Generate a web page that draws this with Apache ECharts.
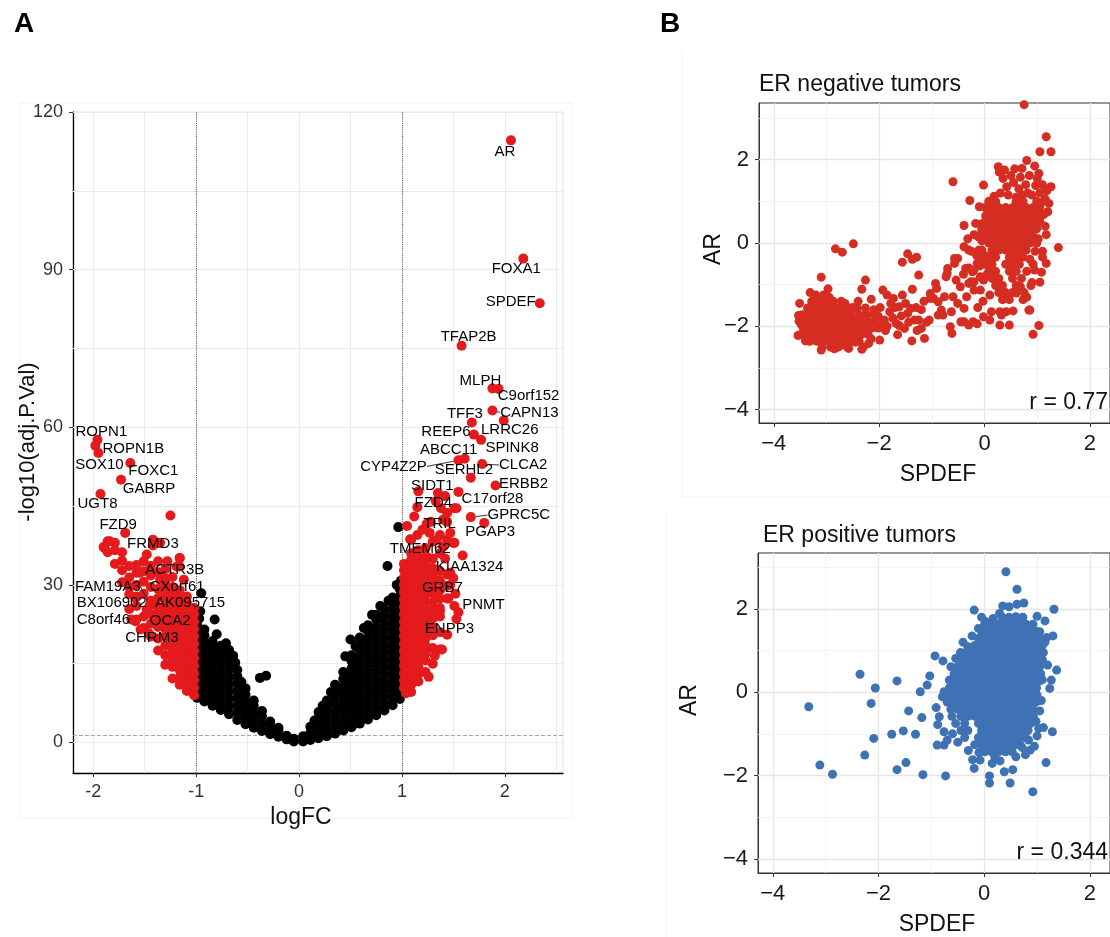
<!DOCTYPE html>
<html><head><meta charset="utf-8">
<script src="https://cdn.jsdelivr.net/npm/echarts@6/dist/echarts.min.js"></script>
<style>html,body{margin:0;padding:0;background:#fff;overflow:hidden}#c{width:1110px;height:937px}</style>
</head><body><div id="c"></div>
<script>
// ---------------- DATA ----------------
const volcanoTicksX = [-2, -1, 0, 1, 2];
const volcanoTicksY = [0, 30, 60, 90, 120];
const volcanoGridX = [-2, -1.5, -1, -0.5, 0, 0.5, 1, 1.5, 2, 2.5];
const volcanoGridY = [0, 15, 30, 45, 60, 75, 90, 105, 120];
const fcCutoffs = [-1, 1];
const pCutoff = 1.3;
const scatterTicks = [-4, -2, 0, 2];
const scatterGridX = [-4, -3, -2, -1, 0, 1, 2];
const scatterGridY = [-4, -3, -2, -1, 0, 1, 2, 3];

const geneNames = ['AR','FOXA1','SPDEF','TFAP2B','MLPH','C9orf152','CAPN13','LRRC26','TFF3','REEP6','SPINK8','ABCC11','CYP4Z2P','CLCA2','SERHL2','ERBB2','SIDT1','C17orf28','FZD4','GPRC5C','PGAP3','TRIL','TMEM62','KIAA1324','GRB7','PNMT','ENPP3','ROPN1','ROPN1B','SOX10','FOXC1','GABRP','UGT8','FZD9','FRMD3','ACTR3B','FAM19A3','CXorf61','BX106902','AK095715','C8orf46','OCA2','CHRM3'];
const geneLogFC = [2.06,2.18,2.34,1.58,1.88,1.94,1.88,1.99,1.68,1.70,1.77,1.61,1.55,1.78,1.67,1.91,1.16,1.55,1.15,1.67,1.80,1.24,1.09,1.59,1.50,1.55,1.53,-1.96,-1.98,-1.95,-1.64,-1.73,-1.93,-1.69,-1.42,-1.48,-1.45,-1.35,-1.48,-1.38,-1.59,-1.35,-1.46];
const geneLogP = [114.6,92.1,83.6,75.5,67.4,67.3,63.2,61.3,60.9,58.6,57.6,54.0,53.7,53.0,50.4,48.9,47.8,47.7,44.8,42.9,41.8,41.6,38.6,35.6,31.3,24.8,23.5,57.6,56.5,55.1,53.2,50.0,47.3,39.9,37.5,35.8,26.2,31.0,25.3,25.9,23.1,24.0,20.8];

// non-significant genes, by logFC column: [logFC, [-log10 p ...]]
const blackCols = [
 [-0.99,[8.5,9.9,11.3,12.7,14.1,15.5,16.9,18.3,19.7,21.1,22.3]],
 [-0.92,[7.8,9.2,10.6,12.0,13.4,14.8,16.2,17.6,19.0,20.4,21.5]],
 [-0.84,[7.0,8.4,9.8,11.2,12.6,14.0,15.4,16.8,18.2,19.3]],
 [-0.76,[6.2,7.6,9.0,10.4,11.8,13.2,14.6,16.0,17.4,18.4]],
 [-0.68,[5.4,6.8,8.2,9.6,11.0,12.4,13.8,15.2,16.6,17.6]],
 [-0.60,[4.3,5.7,7.1,8.5,9.9,11.3,12.6,13.8]],
 [-0.52,[3.5,4.9,6.3,7.7,9.1,10.3]],
 [-0.44,[2.8,4.2,5.6,7.0,8.0]],
 [-0.36,[2.2,3.6,5.0,6.0]],
 [-0.28,[1.6,3.0,4.0]],
 [-0.20,[1.1,2.3,2.8]],
 [-0.12,[0.6,1.3]],
 [-0.05,[0.2,0.7]],
 [0.04,[0.2,1.2]],
 [0.11,[0.5,1.8,3.0]],
 [0.19,[0.8,2.1,3.4,4.7,5.8]],
 [0.27,[1.2,2.6,4.0,5.4,6.8,8.0]],
 [0.35,[1.7,3.1,4.5,5.9,7.3,8.7,10.1,11.0]],
 [0.43,[2.3,3.7,5.1,6.5,7.9,9.3,10.7,12.1,13.4]],
 [0.51,[2.9,4.3,5.7,7.1,8.5,9.9,11.3,12.7,14.1,15.5,16.6]],
 [0.59,[3.6,5.0,6.4,7.8,9.2,10.6,12.0,13.4,14.8,16.2,17.6,19.0,20.0]],
 [0.67,[4.4,5.8,7.2,8.6,10.0,11.4,12.8,14.2,15.6,17.0,18.4,19.8,21.2,22.3]],
 [0.75,[5.2,6.6,8.0,9.4,10.8,12.2,13.6,15.0,16.4,17.8,19.2,20.6,22.0,23.4,24.3]],
 [0.83,[6.1,7.5,8.9,10.3,11.7,13.1,14.5,15.9,17.3,18.7,20.1,21.5,22.9,24.3,25.4]],
 [0.91,[7.1,8.5,9.9,11.3,12.7,14.1,15.5,16.9,18.3,19.7,21.1,22.5,23.9,25.3,26.7,27.6]],
 [0.98,[8.3,9.7,11.1,12.5,13.9,15.3,16.7,18.1,19.5,20.9,22.3,23.7,25.1,26.5,27.9,29.2]]
];
const blackExtra = [[-0.96,25.0],[-0.95,28.4],[-0.97,23.6],[-0.82,23.4],[-0.80,20.6],[-0.71,18.9],[-0.64,16.5],[-0.62,15.2],[-0.38,12.3],[-0.32,12.7],[-0.56,11.5],
 [0.965,41.0],[0.86,33.6],[0.99,30.8],[0.95,30.0],[0.50,19.6],[0.45,16.4],[0.55,18.3],[0.71,24.3],[0.79,26.0],[0.87,27.0],[0.63,21.8],[0.15,4.2],[0.23,7.0],[0.31,9.6]];

// significant genes (no label)
const redRightCols = [
 [1.02,[10.4,11.8,13.2,14.6,16.0,17.4,18.8,20.2,21.6,23.0,24.4,25.8,27.2,28.6,30.0,31.4,32.8,34.0]],
 [1.09,[9.6,11.0,12.4,13.8,15.2,16.6,18.0,19.4,20.8,22.2,23.6,25.0,26.4,27.8,29.2,30.6,32.0,33.4,34.8,36.0]],
 [1.16,[11.6,13.0,14.4,15.8,17.2,18.6,20.0,21.4,22.8,24.2,25.6,27.0,28.4,29.8,31.2,32.6,34.0,35.4,36.6]],
 [1.23,[13.4,15.6,17.0,18.4,19.8,21.2,22.6,24.0,25.4,26.8,28.2,29.6,31.0,32.4,33.8,35.2,37.0]],
 [1.30,[15.0,18.0,20.4,22.0,23.6,25.2,26.8,28.4,30.0,31.6,33.2,35.0,38.2]],
 [1.37,[17.7,21.0,24.0,25.6,27.4,29.0,30.8,32.6,36.0,39.5]],
 [1.44,[20.5,27.4,29.8,32.0,38.6,42.0]],
 [1.51,[26.0,38.0,44.6]]
];
const redRightExtra = [[1.08,38.7],[1.05,41.2],[1.12,43.0],[1.35,47.5],[1.42,46.9],[1.33,45.9],[1.38,44.6],[1.44,43.7],[1.53,44.6],[1.40,42.4],[1.47,39.9],[1.50,38.0],[1.27,39.9],[1.34,38.6],[1.40,37.3],[1.24,35.4],[1.47,32.3],[1.45,27.4],[1.37,25.0],[1.22,19.9],[1.39,17.7],[1.19,18.6],[1.20,40.5],[1.28,42.0],[1.15,39.5],[1.42,35.0],[1.47,30.0],[1.52,28.3],[1.32,16.5],[1.26,12.5],[1.04,9.4]];
const redLeftCols = [
 [-1.02,[9.0,10.4,11.8,13.2,14.6,16.0,17.4,18.8,20.2,21.6,23.0,24.4,25.6]],
 [-1.09,[9.8,11.2,12.6,14.0,15.4,16.8,18.2,19.6,21.0,22.4,23.8,25.2,26.6,27.8]],
 [-1.16,[11.0,12.4,13.8,15.2,16.6,18.0,19.4,20.8,22.2,23.6,25.0,26.4,27.8,29.0,33.5,35.1]],
 [-1.23,[12.2,14.4,15.8,17.2,18.6,20.0,21.4,22.8,24.2,25.6,27.0,28.4,29.6,31.5]],
 [-1.30,[14.8,16.6,18.4,20.2,21.6,23.0,24.4,25.8,27.2,28.6,30.0,31.2,33.0]],
 [-1.37,[17.5,19.8,22.0,23.4,25.0,27.5,29.2,32.4,34.5,38.0]],
 [-1.44,[20.2,22.6,24.4,27.0,29.6,31.8,33.6]],
 [-1.51,[21.8,24.0,28.3,30.6,32.6,34.5]],
 [-1.58,[23.4,26.0,27.8,30.0,32.3,33.8]],
 [-1.65,[25.4,28.2,29.6,31.4,33.6]],
 [-1.72,[30.5,32.8,34.6,36.2]],
 [-1.79,[34.0,36.6,38.0]],
 [-1.86,[36.2,38.3]],
 [-1.90,[37.2]]
];
const redLeftExtra = [[-1.25,43.2],[-1.19,33.5],[-1.12,31.0],[-1.28,34.5],[-1.42,38.6],[-1.35,38.0],[-1.16,35.1],[-1.89,37.0],[-1.84,38.3],[-1.55,32.3],[-1.59,27.5],[-1.63,23.4],[-1.54,21.5]];

// Panel B: ER negative tumors (SPDEF, AR), dense rows: [AR, [SPDEF ...]]
const erNegRows = [
 [-2.50,[-3.08,-2.92,-2.78,-2.60,-2.30]],
 [-2.36,[-3.32,-3.18,-3.05,-2.92,-2.79,-2.66,-2.52,-2.38]],
 [-2.20,[-3.50,-3.38,-3.25,-3.12,-2.99,-2.86,-2.73,-2.60,-2.47,-2.34,-2.21]],
 [-2.04,[-3.44,-3.31,-3.18,-3.05,-2.92,-2.79,-2.66,-2.53,-2.40,-2.27,-2.14,-2.02]],
 [-1.88,[-3.52,-3.38,-3.25,-3.12,-2.99,-2.86,-2.73,-2.60,-2.47,-2.34,-2.21,-2.08]],
 [-1.72,[-3.46,-3.31,-3.18,-3.05,-2.92,-2.79,-2.66,-2.53,-2.38,-2.24,-2.10]],
 [-1.56,[-3.36,-3.22,-3.09,-2.96,-2.83,-2.70,-2.57,-2.42,-2.26]],
 [-1.40,[-3.28,-3.14,-3.01,-2.87,-2.72]],
 [-1.25,[-3.20,-3.06]],
 [1.00,[0.08,0.21,0.60,0.73,0.99,1.12]],
 [0.85,[0.01,0.14,0.27,0.40,0.53,0.66,0.79,0.92,1.05]],
 [0.68,[0.08,0.21,0.34,0.47,0.60,0.73,0.86,0.99,1.12]],
 [0.51,[0.01,0.14,0.27,0.40,0.53,0.66,0.79,0.92,1.05]],
 [0.34,[-0.05,0.08,0.21,0.34,0.47,0.60,0.73,0.86,0.99]],
 [0.17,[0.01,0.14,0.27,0.40,0.53,0.66,0.79,0.92]],
 [0.00,[0.08,0.21,0.34,0.47,0.60,0.73,0.86,0.99]],
 [-0.17,[-0.05,0.14,0.27,0.40,0.53,0.66,0.79]],
 [-0.34,[0.08,0.21,0.47,0.60,0.73,1.10]],
 [-0.51,[0.01,0.14,0.40,0.53,0.66,0.92]],
 [-0.68,[0.08,0.21,0.47,0.60,0.80]],
 [-0.85,[0.14,0.27,0.53,0.70]],
 [-1.02,[0.21,0.34,0.60,0.88]],
 [-1.19,[0.27,0.40,0.53,0.75]],
 [-1.36,[0.34,0.47,0.73]]
];
const erNegPoints = [[-3.51,-1.45],[-3.53,-1.74],[-3.54,-2.22],[-3.31,-1.19],[-3.10,-0.82],[-2.97,-1.10],[-3.10,-1.37],[-2.85,-2.54],[-2.58,-2.53],[-2.33,-2.55],[-2.20,-2.41],[-1.99,-2.33],[-3.10,-2.57],[-3.40,-2.35],[-2.70,-2.45],[-2.45,-2.38],[-3.48,-1.95],[-2.95,-1.30],[-2.65,-1.45],[-2.50,-1.55],[-2.83,-0.14],[-2.70,-0.22],[-2.49,-0.02],[-2.26,-0.89],[-2.33,-1.11],[-2.15,-1.35],[-2.40,-1.40],
 [-2.10,-1.60],[-2.02,-1.75],[-1.95,-1.95],[-1.88,-2.10],[-1.80,-1.65],[-1.74,-1.80],[-1.68,-1.93],[-1.62,-1.53],[-1.58,-1.75],[-1.52,-2.05],[-1.46,-1.69],[-1.40,-1.57],[-1.38,-2.35],[-1.33,-1.85],[-1.28,-2.10],[-1.25,-1.85],[-1.20,-1.60],[-1.14,-2.29],[-1.10,-1.90],[-1.03,-1.33],[-1.05,-1.85],[-1.93,-1.13],[-1.85,-1.25],[-1.73,-1.33],[-1.56,-1.25],[-1.37,-1.11],[-1.25,-0.77],[-1.46,-0.26],[-1.29,-0.34],[-1.56,-0.46],[-1.37,-0.39],[-1.50,-1.45],[-1.65,-2.20],[-1.20,-2.05],[-2.15,-2.30],[-1.70,-1.55],[-1.44,-1.90],[-1.90,-1.85],[-1.98,-1.55],[-1.62,-1.98],[-1.85,-2.00],[-2.06,-1.95],[-1.30,-1.55],[-1.15,-1.40],[-1.78,-1.45],
 [-0.97,-1.33],[-0.82,-1.61],[-0.76,-1.29],[-0.70,-0.61],[-0.73,-0.81],[-0.54,-0.89],[-0.46,-1.05],[-0.34,-1.29],[-0.30,-0.97],[-0.20,-1.13],[-0.36,-0.61],[-0.23,-0.69],[-0.20,-0.93],[-0.08,-1.13],[-0.02,-0.89],[-0.14,-0.49],[-0.11,-0.17],[-0.30,-0.17],[-0.39,-0.09],[-0.51,-0.37],[-0.57,-0.49],[-0.88,-1.41],[-0.79,-1.73],[-1.03,-1.21],[-0.93,-0.97],[-0.60,-1.29],[-0.51,-1.45],[-0.39,-1.57],[-0.65,-2.01],[-0.62,-2.17],[-0.39,-1.89],[-0.30,-1.97],[-0.22,-1.89],[-0.14,-1.94],[-0.02,-1.77],[-0.91,-1.09],[-0.71,-0.73],[-0.57,-0.37],[-0.60,1.47],[-0.28,1.02],[-0.10,0.87],[-0.39,0.42],[-0.17,0.47],[-0.02,1.39],[-0.88,-1.73],[-0.63,-1.65],[-0.45,-1.89],[-0.26,-0.93],[-0.08,-0.81],[-0.20,-0.65],[-0.15,-0.30],[-0.05,-0.40],[-0.25,-0.20],[-0.12,0.15],[-0.05,0.05],[-0.30,-0.60],[-0.40,-0.75],[-0.09,-0.55],[-0.03,-1.40],[-0.13,-1.55],[-0.20,0.20],[-0.08,0.45],[-0.32,0.10],
 [0.26,1.83],[0.28,1.70],[0.38,1.75],[0.57,1.78],[0.71,1.79],[0.80,1.98],[0.95,1.85],[1.03,1.67],[1.26,1.35],[1.17,2.55],[1.05,2.19],[1.26,2.19],[0.75,3.32],[0.35,1.55],[0.42,1.35],[0.55,1.45],[0.65,1.30],[0.68,1.58],[0.78,1.40],[0.82,1.20],[0.90,1.15],[0.97,1.38],[1.05,1.20],[1.15,1.05],[1.00,1.55],[0.30,1.20],[0.18,1.12],[0.45,1.15],[0.60,1.10],[0.72,1.15],[0.85,1.62],[0.50,1.62],[1.10,1.40],
 [1.17,0.20],[1.17,-0.49],[1.40,-0.11],[1.05,-0.94],[0.86,-1.61],[1.03,-1.98],[0.92,-2.19],[1.10,-0.20],[1.15,0.40],[0.86,-0.39],[1.20,0.75],[1.08,-0.70],[0.95,-0.65],[0.05,-0.75],[0.00,-0.30],[-0.05,0.30],[0.02,0.65],[0.10,-1.25],[0.13,-1.65],[0.29,-1.65],[0.41,-1.65],[0.47,-1.97],[0.29,-1.97],[0.84,-1.61],[0.10,-1.85],[0.32,-1.73],[0.54,-1.63],[0.60,-1.20],[0.80,-1.30],[0.68,-1.05],[0.96,-0.20],[1.02,0.10],[0.90,-0.95],[1.18,1.25],[1.22,0.95]];

// Panel B: ER positive tumors (SPDEF, AR), dense rows: [AR, [SPDEF ...]]
const erPosRows = [
 [1.80,[0.34,0.47,0.60,0.73]],
 [1.63,[0.01,0.14,0.27,0.40,0.53,0.66,0.79,0.92]],
 [1.46,[-0.05,0.08,0.21,0.34,0.47,0.60,0.73,0.86,0.99]],
 [1.29,[-0.11,0.01,0.14,0.27,0.40,0.53,0.66,0.79,0.92,1.05]],
 [1.12,[-0.18,-0.05,0.08,0.21,0.34,0.47,0.60,0.73,0.86,0.99,1.10]],
 [0.95,[-0.35,-0.24,-0.11,0.01,0.14,0.27,0.40,0.53,0.66,0.79,0.92,1.05]],
 [0.78,[-0.44,-0.31,-0.18,-0.05,0.08,0.21,0.34,0.47,0.60,0.73,0.86,0.99,1.10]],
 [0.61,[-0.50,-0.37,-0.24,-0.11,0.01,0.14,0.27,0.40,0.53,0.66,0.79,0.92,1.05]],
 [0.44,[-0.57,-0.44,-0.31,-0.18,-0.05,0.08,0.21,0.34,0.47,0.60,0.73,0.86,0.99,1.07]],
 [0.27,[-0.63,-0.50,-0.37,-0.24,-0.11,0.01,0.14,0.27,0.40,0.53,0.66,0.79,0.92,1.05]],
 [0.10,[-0.66,-0.57,-0.44,-0.31,-0.18,-0.05,0.08,0.21,0.34,0.47,0.60,0.73,0.86,0.99]],
 [-0.07,[-0.70,-0.63,-0.50,-0.37,-0.24,-0.11,0.01,0.14,0.27,0.40,0.53,0.66,0.79,0.92,1.00]],
 [-0.24,[-0.70,-0.57,-0.44,-0.31,-0.18,-0.05,0.08,0.21,0.34,0.47,0.60,0.73,0.86,0.98]],
 [-0.41,[-0.63,-0.50,-0.37,-0.24,-0.11,0.01,0.14,0.27,0.40,0.53,0.66,0.79,0.92]],
 [-0.58,[-0.61,-0.44,-0.31,-0.18,-0.05,0.08,0.21,0.34,0.47,0.60,0.73,0.86,0.93]],
 [-0.75,[-0.54,-0.37,-0.11,0.01,0.14,0.27,0.40,0.53,0.66,0.79,0.88]],
 [-0.92,[-0.44,-0.31,-0.05,0.08,0.21,0.34,0.47,0.60,0.73,0.83]],
 [-1.09,[-0.37,-0.11,0.01,0.14,0.27,0.40,0.53,0.66,0.78]],
 [-1.26,[-0.18,-0.05,0.08,0.21,0.34,0.47,0.60,0.68]],
 [-1.43,[0.01,0.14,0.27,0.40,0.53]]
];
const erPosPoints = [[-0.91,-0.37],[-0.85,-0.59],[-0.88,-0.78],[-0.76,-0.95],[-0.70,-1.15],[-0.79,-0.11],[-0.76,0.01],[-0.66,0.29],[-0.63,0.61],[-0.54,0.81],[-0.31,1.09],[-0.23,1.35],[-0.11,1.53],[0.17,1.77],[0.29,1.89],[0.60,1.81],[0.72,1.77],[-0.19,1.97],[0.41,2.89],[0.62,2.47],[0.35,2.07],[0.47,2.05],[0.62,2.11],[0.75,2.14],[1.32,1.99],[1.00,1.82],[1.15,1.71],[1.30,1.35],[1.18,1.31],[1.37,0.53],[1.27,0.29],[1.24,0.09],[1.29,-0.95],[1.03,-0.87],[1.12,-0.85],[1.17,-1.69],[0.92,-2.39],[0.49,-2.18],[0.10,-2.18],[0.10,-2.01],[0.38,-1.91],[0.54,-1.86],[-0.19,-1.83],[-0.08,-1.63],[-0.22,-1.62],[0.15,-1.71],[0.87,-1.39],[0.72,-1.33],[0.60,-1.55],[0.84,-1.15],[-0.93,0.87],[-0.78,0.75],[-0.73,-2.01],[-0.89,-1.27],[-0.76,-1.27],
 [-3.32,-0.35],[-3.11,-1.75],[-2.87,-1.97],[-2.35,0.43],[-2.14,-0.27],[-2.06,0.10],[-2.09,-1.11],[-2.26,-1.51],[-1.65,0.27],[-1.75,-1.01],[-1.65,-1.86],[-1.53,-0.93],[-1.48,-1.69],[-1.43,-0.45],[-1.30,-1.01],[-1.21,0.01],[-1.18,-0.61],[-1.16,-1.98],[-1.08,0.17],[-1.03,0.39],
 [1.15,1.20],[1.12,0.95],[1.20,0.65],[1.10,0.30],[1.08,-0.20],[1.05,-0.45],[0.98,-0.70],[1.00,-1.05],[0.95,-1.30],[0.78,-1.50],[0.30,-1.65],[0.20,-1.55],[-0.10,-1.45],[-0.30,-1.40],[-0.50,-1.20],[-0.60,-1.00],[0.90,1.55],[1.05,1.45],[-0.40,1.20],[-0.45,0.95],[0.02,1.70],[-0.05,1.80]];
const rNeg = 'r = 0.77';
const rPos = 'r = 0.344';

// ---------------- STYLE / LAYOUT ----------------
const FONT = '"Liberation Sans", Arial, Helvetica, sans-serif';
const labelShift = {AR:[-6,11],FOXA1:[-7,10],SPDEF:[-29,-1],TFAP2B:[7,-9],MLPH:[-12,-8],C9orf152:[30,7],CAPN13:[37,2],LRRC26:[6,9],TFF3:[-7,-9],REEP6:[-28,-3],SPINK8:[31,8],ABCC11:[-16,-9],CYP4Z2P:[-65,6],CLCA2:[41,1],SERHL2:[-7,-8],ERBB2:[28,-2],SIDT1:[14,-6],C17orf28:[34,7],FZD4:[16,-4],GPRC5C:[48,-2],PGAP3:[6,9],TRIL:[13,0],TMEM62:[9,9],KIAA1324:[7,11],GRB7:[-11,10],PNMT:[25,-7],ENPP3:[-7,10],ROPN1:[4,-8],ROPN1B:[38,3],SOX10:[1,12],FOXC1:[23,8],GABRP:[28,9],UGT8:[-3,10],FZD9:[-7,-8],FRMD3:[0,-2],ACTR3B:[28,15],FAM19A3:[-42,-18],CXorf61:[17,7],BX106902:[-35,-7],AK095715:[33,-4],C8orf46:[-32,-1],OCA2:[10,4],CHRM3:[3,5]};
const leaderGenes = ['CAPN13','CYP4Z2P','CLCA2','GPRC5C','FAM19A3','BX106902','AK095715'];

const fromCols = cols => cols.flatMap(([x, ys]) => ys.map(y => [x, y]));
const fromRows = rows => rows.flatMap(([y, xs]) => xs.map(x => [x, y]));
const minus = v => String(v).replace('-', '\u2212');

function gridMarks(gx, gy, majorTest, majorStyle, minorStyle, extra) {
  const d = [];
  gx.forEach(v => d.push({xAxis: v, lineStyle: majorTest(v) ? majorStyle : minorStyle}));
  gy.forEach(v => d.push({yAxis: v, lineStyle: majorTest(v) ? majorStyle : minorStyle}));
  return d.concat(extra || []);
}
function markLineOf(data) {
  return {silent: true, symbol: ['none','none'], label: {show: false}, animation: false, z: 1, emphasis: {disabled: true}, data};
}

const volcanoMarks = gridMarks(volcanoGridX, volcanoGridY, () => true,
  {color: '#ebebeb', width: 1, type: 'solid'}, null,
  fcCutoffs.map(v => ({xAxis: v, lineStyle: {color: '#6a6a6a', width: 1.1, type: 'dotted'}}))
    .concat([{yAxis: pCutoff, lineStyle: {color: '#a8a8a8', width: 1, type: 'dashed'}}]));
const scatterMarks = gridMarks(scatterGridX, scatterGridY, v => v % 2 === 0,
  {color: '#e6e6e6', width: 1.3, type: 'solid'}, {color: '#f0f0f0', width: 0.8, type: 'solid'});

const volcanoAxisCommon = {
  axisLine: {show: true, onZero: false, lineStyle: {color: '#000', width: 1.3}},
  axisTick: {show: true, length: 4, lineStyle: {color: '#333'}},
  splitLine: {show: false},
  axisLabel: {fontSize: 18, color: '#333', fontFamily: FONT}
};
function scatterAxis(extra) {
  return Object.assign({
    type: 'value',
    axisLine: {show: true, onZero: false, lineStyle: {color: '#333', width: 1}},
    axisTick: {show: true, length: 4, lineStyle: {color: '#333'}, customValues: scatterTicks},
    splitLine: {show: false},
    axisLabel: {fontSize: 22, color: '#1a1a1a', fontFamily: FONT, margin: 10, customValues: scatterTicks, formatter: minus}
  }, extra);
}

function txt(text, x, y, opts) {
  return Object.assign({type: 'text', x, y, silent: true, z: 10,
    style: Object.assign({text, fontFamily: FONT, fontSize: 23, fill: '#111', textAlign: 'center', textVerticalAlign: 'middle'}, (opts && opts.style) || {})},
    opts && opts.rotation ? {rotation: opts.rotation} : {});
}
const solid = c => ({color: c, opacity: 1});

const option = {
  animation: false,
  backgroundColor: '#fff',
  grid: [
    {left: 73, top: 112, width: 490, height: 661, show: true, borderColor: '#e2e2e2', borderWidth: 1, backgroundColor: 'transparent'},
    {left: 759, top: 103, width: 361, height: 320, show: true, borderColor: '#333', borderWidth: 1, backgroundColor: 'transparent'},
    {left: 758, top: 553, width: 362, height: 320, show: true, borderColor: '#333', borderWidth: 1, backgroundColor: 'transparent'}
  ],
  xAxis: [
    Object.assign({type: 'value', gridIndex: 0, min: -2.197, max: 2.566}, volcanoAxisCommon,
      {axisTick: Object.assign({}, volcanoAxisCommon.axisTick, {customValues: volcanoTicksX}),
       axisLabel: Object.assign({}, volcanoAxisCommon.axisLabel, {customValues: volcanoTicksX, margin: 10})}),
    scatterAxis({gridIndex: 1, min: -4.28, max: 2.38}),
    scatterAxis({gridIndex: 2, min: -4.28, max: 2.38})
  ],
  yAxis: [
    Object.assign({type: 'value', gridIndex: 0, min: -5.8, max: 120}, volcanoAxisCommon,
      {axisTick: Object.assign({}, volcanoAxisCommon.axisTick, {customValues: volcanoTicksY}),
       axisLabel: Object.assign({}, volcanoAxisCommon.axisLabel, {customValues: volcanoTicksY, margin: 10})}),
    scatterAxis({gridIndex: 1, min: -4.32, max: 3.36}),
    scatterAxis({gridIndex: 2, min: -4.34, max: 3.34})
  ],
  series: [
    {type: 'scatter', name: 'ns', xAxisIndex: 0, yAxisIndex: 0, z: 3, symbolSize: 10, silent: true,
     itemStyle: solid('#000'), data: fromCols(blackCols).concat(blackExtra), markLine: markLineOf(volcanoMarks)},
    {type: 'scatter', name: 'sig', xAxisIndex: 0, yAxisIndex: 0, z: 3, symbolSize: 10, silent: true,
     itemStyle: solid('#e41a1c'), data: fromCols(redRightCols).concat(redRightExtra, fromCols(redLeftCols), redLeftExtra)},
    {type: 'scatter', name: 'genes', xAxisIndex: 0, yAxisIndex: 0, z: 4, symbolSize: 10, silent: true,
     itemStyle: solid('#e41a1c'),
     data: geneNames.map((n, i) => ({name: n, value: [geneLogFC[i], geneLogP[i]], labelLine: {show: leaderGenes.includes(n)}})),
     label: {show: true, position: 'inside', formatter: '{b}', fontSize: 15, color: '#000', opacity: 1, fontFamily: FONT},
     labelLine: {show: false, lineStyle: {color: '#222', width: 0.9, opacity: 1}},
     labelLayout: p => { const s = labelShift[geneNames[p.dataIndex]] || [0, 0]; return {dx: s[0], dy: s[1]}; }},
    {type: 'scatter', name: 'ERneg', xAxisIndex: 1, yAxisIndex: 1, z: 3, symbolSize: 9, silent: true,
     itemStyle: solid('#d62d23'), data: fromRows(erNegRows).concat(erNegPoints), markLine: markLineOf(scatterMarks)},
    {type: 'scatter', name: 'ERpos', xAxisIndex: 2, yAxisIndex: 2, z: 3, symbolSize: 9, silent: true,
     itemStyle: solid('#3f72b5'), data: fromRows(erPosRows).concat(erPosPoints), markLine: markLineOf(scatterMarks)}
  ],
  graphic: [
    {type: 'rect', silent: true, z: -1, shape: {x: 20, y: 103, width: 552, height: 715}, style: {fill: 'none', stroke: '#f2f2f2', lineWidth: 1}},
    {type: 'line', silent: true, z: -1, shape: {x1: 682, y1: 50, x2: 682, y2: 497}, style: {stroke: '#f2f2f2', lineWidth: 1}},
    {type: 'line', silent: true, z: -1, shape: {x1: 682, y1: 497, x2: 1110, y2: 497}, style: {stroke: '#f2f2f2', lineWidth: 1}},
    {type: 'line', silent: true, z: -1, shape: {x1: 666, y1: 512, x2: 666, y2: 937}, style: {stroke: '#f2f2f2', lineWidth: 1}},
    txt('A', 24, 24, {style: {fontSize: 28, fontWeight: 'bold', fill: '#000'}}),
    txt('B', 670, 24, {style: {fontSize: 28, fontWeight: 'bold', fill: '#000'}}),
    txt('logFC', 301, 818, {style: {fontSize: 23}}),
    txt('-log10(adj.P.Val)', 28, 442, {rotation: Math.PI / 2, style: {fontSize: 22}}),
    txt('ER negative tumors', 759, 85, {style: {textAlign: 'left', fontSize: 23}}),
    txt('ER positive tumors', 763, 536, {style: {textAlign: 'left', fontSize: 23}}),
    txt('AR', 714, 249, {rotation: Math.PI / 2, style: {fontSize: 23}}),
    txt('AR', 690, 700, {rotation: Math.PI / 2, style: {fontSize: 23}}),
    txt('SPDEF', 938, 475, {style: {fontSize: 23}}),
    txt('SPDEF', 937, 925, {style: {fontSize: 23}}),
    txt(rNeg, 1108, 403, {style: {textAlign: 'right', fontSize: 23}}),
    txt(rPos, 1108, 853, {style: {textAlign: 'right', fontSize: 23}})
  ]
};

const chart = echarts.init(document.getElementById('c'), null, {renderer: 'canvas', width: 1110, height: 937});
chart.setOption(option);
</script></body></html>
